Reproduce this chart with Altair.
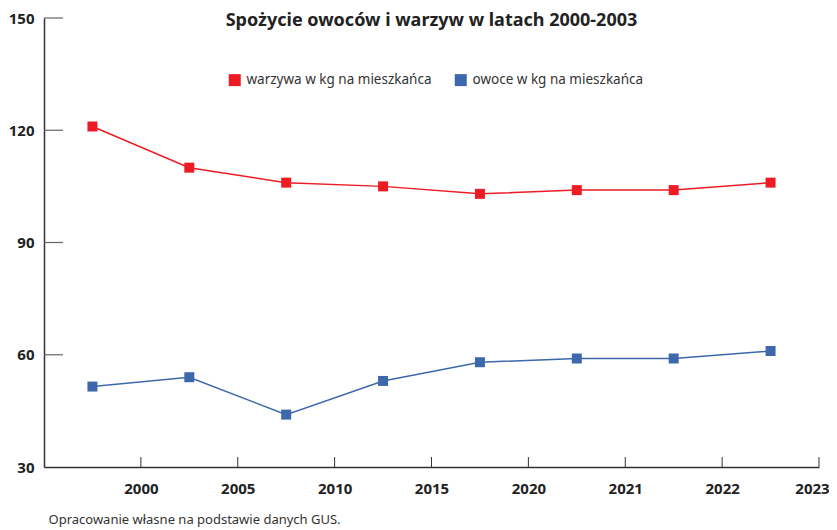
import altair as alt
import pandas as pd

years = ["2000", "2005", "2010", "2015", "2020", "2021", "2022", "2023"]
warzywa = [121, 110, 106, 105, 103, 104, 104, 106]
owoce = [51.5, 54, 44, 53, 58, 59, 59, 61]
series_names = ["warzywa w kg na mieszkańca", "owoce w kg na mieszkańca"]
colors = ["#ed1c24", "#3d68ac"]
y_ticks = [30, 60, 90, 120, 150]

rows = []
for i in range(len(years)):
    rows.append({"pos": i + 0.5, "value": warzywa[i], "series": series_names[0]})
    rows.append({"pos": i + 0.5, "value": owoce[i], "series": series_names[1]})
df = pd.DataFrame(rows)

label_map = "{" + ",".join(f"'{i+1}':'{y}'" for i, y in enumerate(years)) + "}"

FONT = "Noto Sans"
xscale = alt.Scale(domain=[0, len(years)], nice=False, zero=False)
yscale = alt.Scale(domain=[30, 150], nice=False, zero=False)

xaxis = alt.Axis(
    values=list(range(1, len(years) + 1)),
    labelExpr=f"{label_map}[datum.value + '']",
    tickSize=0,
    labelPadding=14,
    labelFont=FONT,
    labelFontSize=15,
    labelFontWeight="bold",
    labelColor="#222222",
    labelOffset={"condition": {"test": f"datum.value == {len(years)}", "value": -7}, "value": 0},
    domainColor="#333333",
    domainWidth=1.5,
    grid=False,
    title="Opracowanie własne na podstawie danych GUS.",
    titleX=4,
    titleY=56,
    titleAlign="left",
    titleBaseline="alphabetic",
    titleFont=FONT,
    titleFontSize=13,
    titleFontWeight="normal",
    titleColor="#333333",
    labelOverlap=False,
    labelFlush=False,
)
yaxis = alt.Axis(
    values=y_ticks,
    tickSize=0,
    labelPadding=10,
    labelFont=FONT,
    labelFontSize=15,
    labelFontWeight="bold",
    labelColor="#222222",
    domainColor="#333333",
    domainWidth=1.5,
    grid=False,
    title=None,
)

legend = alt.Legend(
    title=None,
    orient="none",
    legendX=184,
    legendY=55,
    direction="horizontal",
    symbolType="square",
    symbolSize=144,
    symbolStrokeWidth=0,
    symbolOpacity=1,
    labelFont=FONT,
    labelFontSize=13.5,
    labelColor="#333333",
    labelOffset=5,
    labelLimit=400,
    columnPadding=22,
)
color = alt.Color(
    "series:N",
    scale=alt.Scale(domain=series_names, range=colors),
    sort=series_names,
    legend=legend,
)

lines = alt.Chart(df).mark_line(strokeWidth=1.5).encode(
    x=alt.X("pos:Q", scale=xscale, axis=xaxis),
    y=alt.Y("value:Q", scale=yscale, axis=yaxis),
    color=color,
)

points = alt.Chart(df).mark_square(size=100, opacity=1, filled=True).encode(
    x=alt.X("pos:Q", scale=xscale, axis=xaxis),
    y=alt.Y("value:Q", scale=yscale, axis=yaxis),
    color=color,
)

ytick_df = pd.DataFrame({"value": y_ticks[1:]})
yticks = alt.Chart(ytick_df).mark_rule(color="#666666", strokeWidth=1.2).encode(
    y=alt.Y("value:Q", scale=yscale, axis=yaxis),
    x=alt.value(0),
    x2=alt.value(19),
)

xtick_df = pd.DataFrame({"pos": list(range(1, len(years) + 1))})
xticks = alt.Chart(xtick_df).mark_rule(color="#333333", strokeWidth=1).encode(
    x=alt.X("pos:Q", scale=xscale, axis=xaxis),
    y=alt.value(449),
    y2=alt.value(439),
)

chart = (
    alt.layer(lines, points, yticks, xticks)
    .properties(
        width=775,
        height=449,
        autosize=alt.AutoSizeParams(type="none"),
        padding={"left": 36, "top": 10, "right": 10, "bottom": 60},
        title=alt.TitleParams(
            "Spożycie owoców i warzyw w latach 2000-2003",
            font=FONT,
            fontSize=18,
            fontWeight="bold",
            color="#222222",
            anchor="middle",
            offset=-10,
            dy=9,
        ),
    )
    .configure_view(stroke=None)
)

chart.save("out.html", embed_options={"renderer": "svg", "actions": False})
